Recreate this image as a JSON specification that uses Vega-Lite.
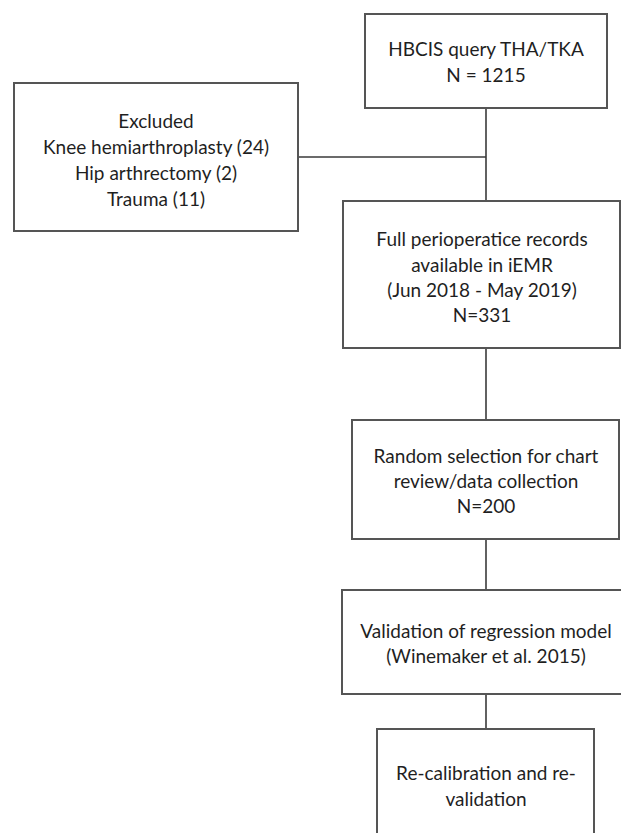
{
  "$schema": "https://vega.github.io/schema/vega-lite/v6.json",
  "width": 621,
  "height": 833,
  "padding": 0,
  "autosize": {"type": "none"},
  "background": "white",
  "config": {"view": {"stroke": null}},
  "datasets": {
    "boxes": [
      {"id": "hbcis", "x1": 365, "x2": 607, "y1": 14, "y2": 108},
      {"id": "excluded", "x1": 14, "x2": 298, "y1": 83, "y2": 231},
      {"id": "full", "x1": 343, "x2": 620, "y1": 201, "y2": 348},
      {"id": "random", "x1": 352, "x2": 619, "y1": 420, "y2": 539},
      {"id": "validation", "x1": 342, "x2": 630, "y1": 590, "y2": 694},
      {"id": "recal", "x1": 377, "x2": 594, "y1": 729, "y2": 850}
    ],
    "links": [
      {"x1": 486, "x2": 486, "y1": 108, "y2": 201},
      {"x1": 298, "x2": 486, "y1": 157, "y2": 157},
      {"x1": 486, "x2": 486, "y1": 348, "y2": 420},
      {"x1": 486, "x2": 486, "y1": 539, "y2": 590},
      {"x1": 486, "x2": 486, "y1": 694, "y2": 729}
    ],
    "labels": [
      {"x": 486, "y": 50, "text": "HBCIS query THA/TKA"},
      {"x": 486, "y": 76, "text": "N = 1215"},
      {"x": 156, "y": 122, "text": "Excluded"},
      {"x": 156, "y": 148, "text": "Knee hemiarthroplasty (24)"},
      {"x": 156, "y": 174, "text": "Hip arthrectomy (2)"},
      {"x": 156, "y": 200, "text": "Trauma (11)"},
      {"x": 482, "y": 240, "text": "Full perioperatice records"},
      {"x": 482, "y": 266, "text": "available in iEMR"},
      {"x": 482, "y": 291, "text": "(Jun 2018 - May 2019)"},
      {"x": 482, "y": 316, "text": "N=331"},
      {"x": 486, "y": 457, "text": "Random selection for chart"},
      {"x": 486, "y": 482, "text": "review/data collection"},
      {"x": 486, "y": 507, "text": "N=200"},
      {"x": 486, "y": 632, "text": "Validation of regression model"},
      {"x": 486, "y": 657, "text": "(Winemaker et al. 2015)"},
      {"x": 486, "y": 774, "text": "Re-calibration and re-"},
      {"x": 486, "y": 800, "text": "validation"}
    ]
  },
  "layer": [
    {
      "data": {"name": "links"},
      "mark": {"type": "rule", "stroke": "#3a3a3a", "strokeWidth": 1.6},
      "encoding": {
        "x": {"field": "x1", "type": "quantitative", "scale": {"domain": [0, 621], "nice": false, "zero": false}, "axis": null},
        "x2": {"field": "x2"},
        "y": {"field": "y1", "type": "quantitative", "scale": {"domain": [833, 0], "nice": false, "zero": false}, "axis": null},
        "y2": {"field": "y2"}
      }
    },
    {
      "data": {"name": "boxes"},
      "mark": {"type": "rect", "fill": "white", "stroke": "#555555", "strokeWidth": 2},
      "encoding": {
        "x": {"field": "x1", "type": "quantitative"},
        "x2": {"field": "x2"},
        "y": {"field": "y1", "type": "quantitative"},
        "y2": {"field": "y2"}
      }
    },
    {
      "data": {"name": "labels"},
      "mark": {"type": "text", "font": "Lato", "fontSize": 19, "fill": "#1f1f1f", "align": "center", "baseline": "middle"},
      "encoding": {
        "x": {"field": "x", "type": "quantitative"},
        "y": {"field": "y", "type": "quantitative"},
        "text": {"field": "text"}
      }
    }
  ]
}
